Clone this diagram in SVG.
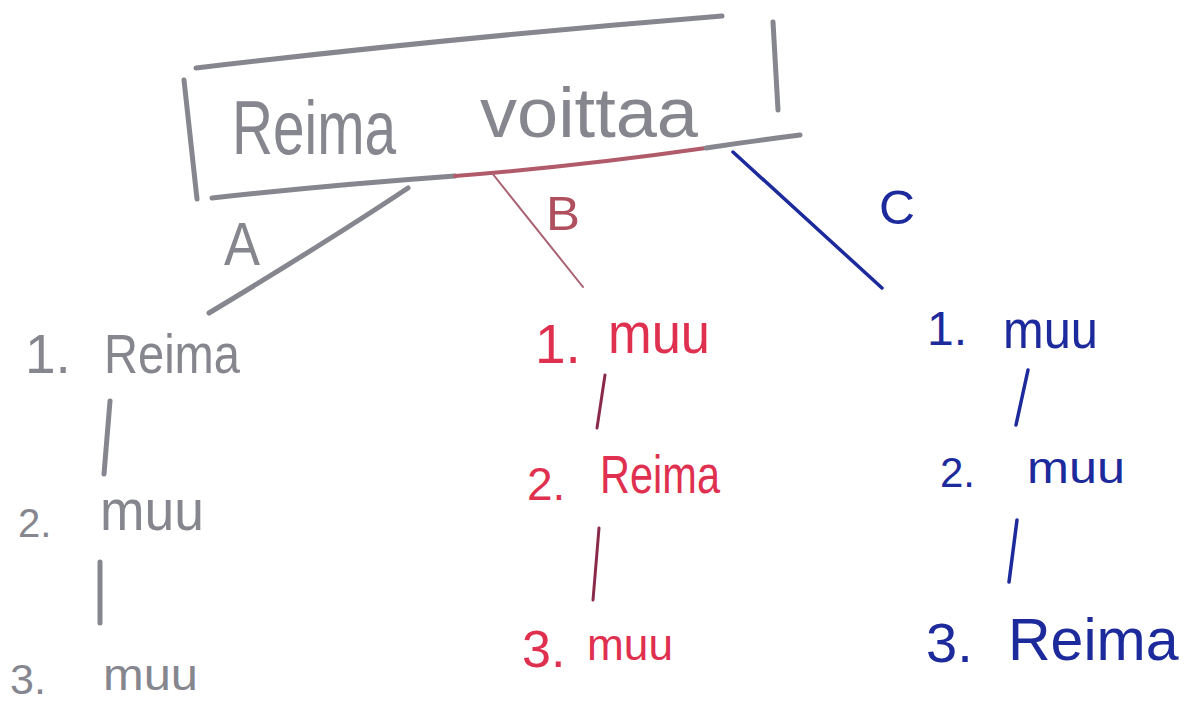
<svg xmlns="http://www.w3.org/2000/svg" width="1186" height="706" viewBox="0 0 1186 706">
<style>
text{font-family:"Liberation Sans",Arial,sans-serif;}
.g{fill:#86868f;}
.r{fill:#e0304f;}
.b{fill:#1c2a9c;}
.sg{fill:none;stroke:#86868f;stroke-width:5;stroke-linecap:round;}
.sr{fill:none;stroke:#b05a6a;stroke-width:4;stroke-linecap:round;}
.sm{fill:none;stroke:#a86272;stroke-width:2;stroke-linecap:round;}
.sd{fill:none;stroke:#8a2a48;stroke-width:3;stroke-linecap:round;}
.sb{fill:none;stroke:#1c2a9c;stroke-width:3.5;stroke-linecap:round;}
</style>
<rect width="1186" height="706" fill="#ffffff"/>
<g id="title">
<path class="sg" d="M196 68 Q450 38 722 16"/>
<path class="sg" d="M184 80 L197 199"/>
<path class="sg" d="M773 22 L778 110"/>
<path class="sg" d="M212 198 Q330 185 455 176"/>
<path class="sr" d="M455 176 Q580 166 706 148"/>
<path class="sg" d="M706 148 Q760 140 800 135"/>
<text class="g" x="232" y="154" font-size="76" textLength="164" lengthAdjust="spacingAndGlyphs">Reima</text>
<text class="g" x="480" y="137" font-size="70" textLength="218" lengthAdjust="spacingAndGlyphs">voittaa</text>
</g>
<g id="connectors">
<path class="sg" d="M408 188 Q330 240 209 313"/>
<path class="sm" d="M492 173 L583 287"/>
<path class="sb" d="M733 152 L882 288"/>
<text class="g" x="224" y="265" font-size="62" textLength="36" lengthAdjust="spacingAndGlyphs">A</text>
<text x="546" y="230" font-size="48" textLength="34" lengthAdjust="spacingAndGlyphs" style="fill:#b0505f">B</text>
<text class="b" x="879" y="224" font-size="48" textLength="36" lengthAdjust="spacingAndGlyphs">C</text>
<path class="sg" d="M110 401 L104 474"/>
<path class="sg" d="M100 562 L100 623"/>
<path class="sd" d="M605 375 L597 428"/>
<path class="sd" d="M599 528 L593 600"/>
<path class="sb" d="M1028 370 L1016 425"/>
<path class="sb" d="M1017 520 L1009 582"/>
</g>
<g id="a1"><text class="g" font-size="55"><tspan x="25" y="373">1. </tspan><tspan x="104" y="373" textLength="136" lengthAdjust="spacingAndGlyphs">Reima</tspan></text></g>
<g id="a2"><text class="g" font-size="40"><tspan x="18" y="537">2. </tspan><tspan x="100" y="530" font-size="57" textLength="104" lengthAdjust="spacingAndGlyphs">muu</tspan></text></g>
<g id="a3"><text class="g" font-size="43"><tspan x="10" y="694">3. </tspan><tspan x="103" y="690" font-size="44" textLength="95" lengthAdjust="spacingAndGlyphs">muu</tspan></text></g>
<g id="b1"><text class="r" font-size="55"><tspan x="535" y="363">1. </tspan><tspan x="608" y="353" font-size="58" textLength="102" lengthAdjust="spacingAndGlyphs">muu</tspan></text></g>
<g id="b2"><text class="r" font-size="46"><tspan x="527" y="500">2. </tspan><tspan x="600" y="493" font-size="53" textLength="120" lengthAdjust="spacingAndGlyphs">Reima</tspan></text></g>
<g id="b3"><text class="r" font-size="52"><tspan x="522" y="667">3. </tspan><tspan x="587" y="660" font-size="45" textLength="86" lengthAdjust="spacingAndGlyphs">muu</tspan></text></g>
<g id="c1"><text class="b" font-size="48"><tspan x="927" y="345">1. </tspan><tspan x="1003" y="348" font-size="53" textLength="95" lengthAdjust="spacingAndGlyphs">muu</tspan></text></g>
<g id="c2"><text class="b" font-size="42"><tspan x="940" y="487">2. </tspan><tspan x="1027" y="483" font-size="45" textLength="98" lengthAdjust="spacingAndGlyphs">muu</tspan></text></g>
<g id="c3"><text class="b" font-size="56"><tspan x="926" y="662">3. </tspan><tspan x="1008" y="660" font-size="59">Reima</tspan></text></g>
</svg>
